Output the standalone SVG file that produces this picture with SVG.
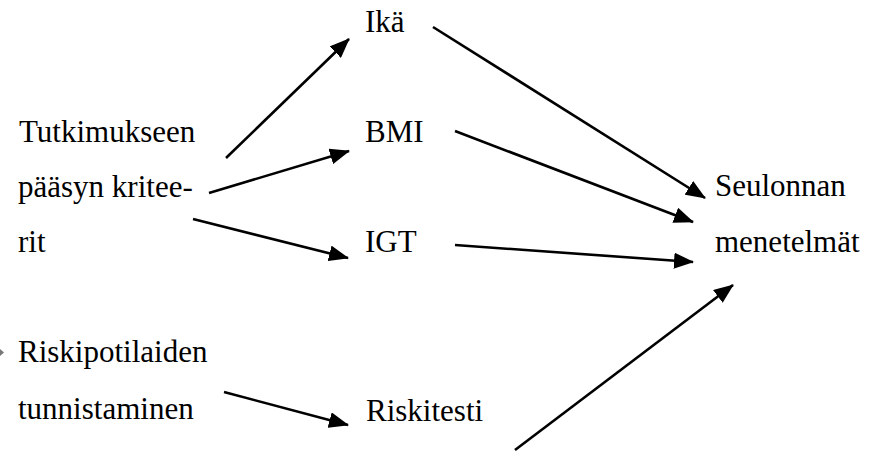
<svg xmlns="http://www.w3.org/2000/svg" width="871" height="456" viewBox="0 0 871 456">
<style>
text{font-family:"Liberation Serif","Times New Roman",serif;font-size:31px;fill:#000}
.c line{stroke:#000;stroke-width:2.6;marker-end:url(#ah)}
</style>
<defs>
<marker id="ah" markerUnits="userSpaceOnUse" viewBox="0 0 20 16" refX="19" refY="8" markerWidth="20" markerHeight="16" orient="auto">
<path d="M0,0 L20,8 L0,16 Z" fill="#000"/>
</marker>
</defs>
<rect width="871" height="456" fill="#fff"/>
<g id="tutkimus"><text x="19" y="142">Tutkimukseen</text><text x="18" y="197">pääsyn kritee-</text><text x="18" y="252">rit</text></g>
<g id="ika"><text x="365" y="32">Ikä</text></g>
<g id="bmi"><text x="365" y="142">BMI</text></g>
<g id="igt"><text x="365" y="252">IGT</text></g>
<g id="seulonta"><text x="715" y="196">Seulonnan</text><text x="715" y="252">menetelmät</text></g>
<g id="riskipotilaat"><text x="18" y="362">Riskipotilaiden</text><text x="18" y="419">tunnistaminen</text></g>
<g id="riskitesti"><text x="366" y="421">Riskitesti</text></g>
<g id="edge-mark"><path d="M0,349 L4,352.5 L0,356 Z" fill="#777"/></g>
<g class="c" id="connectors">
<line x1="226" y1="158" x2="349" y2="39"/>
<line x1="209" y1="193" x2="349" y2="151"/>
<line x1="193" y1="219" x2="348" y2="258"/>
<line x1="433" y1="27" x2="705" y2="198"/>
<line x1="455" y1="131" x2="693" y2="222"/>
<line x1="455" y1="245" x2="693" y2="262"/>
<line x1="224" y1="392" x2="348" y2="425"/>
<line x1="515" y1="450" x2="733" y2="285"/>
</g>
</svg>
